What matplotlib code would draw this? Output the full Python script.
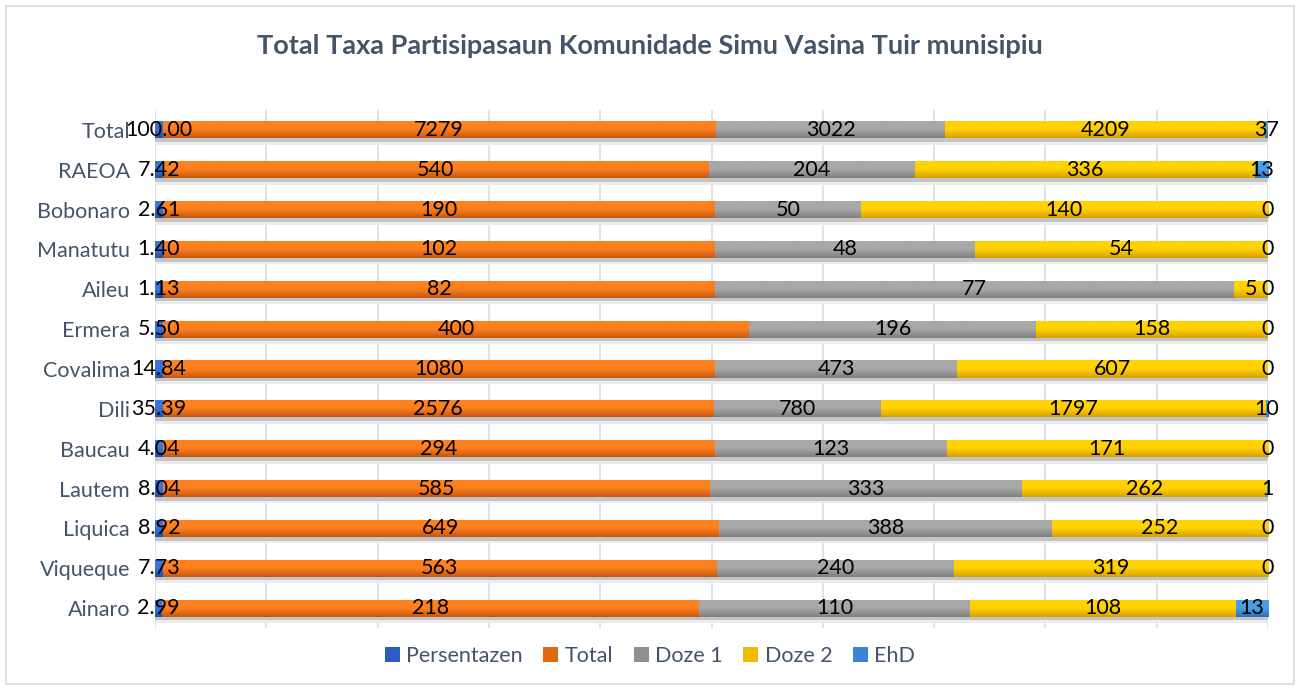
import numpy as np
import matplotlib
matplotlib.use("Agg")
import matplotlib.pyplot as plt
from matplotlib.colors import LinearSegmentedColormap
from matplotlib.patches import Rectangle

categories = ["Total", "RAEOA", "Bobonaro", "Manatutu", "Aileu", "Ermera", "Covalima",
              "Dili", "Baucau", "Lautem", "Liquica", "Viqueque", "Ainaro"]
persentazen = [100.00, 7.42, 2.61, 1.40, 1.13, 5.50, 14.84, 35.39, 4.04, 8.04, 8.92, 7.73, 2.99]
total = [7279, 540, 190, 102, 82, 400, 1080, 2576, 294, 585, 649, 563, 218]
doze1 = [3022, 204, 50, 48, 77, 196, 473, 780, 123, 333, 388, 240, 110]
doze2 = [4209, 336, 140, 54, 5, 158, 607, 1797, 171, 262, 252, 319, 108]
ehd = [37, 13, 0, 0, 0, 0, 0, 10, 0, 1, 0, 0, 13]

series_names = ["Persentazen", "Total", "Doze 1", "Doze 2", "EhD"]
series = [persentazen, total, doze1, doze2, ehd]
labels_fmt = ["{:.2f}", "{:d}", "{:d}", "{:d}", "{:d}"]
flat_colors = ["#2f62c8", "#f0761a", "#999999", "#f5c400", "#3f8ad8"]
grad = [("#3a74dc", "#1f4fa8"), ("#ff801f", "#c4580f"), ("#a8a8a8", "#7f7f7f"),
        ("#ffd200", "#d9a000"), ("#4c9de8", "#2c70b5")]

plt.rcParams['font.family'] = ['Lato', 'DejaVu Sans']

fig = plt.figure(figsize=(13, 6.9), dpi=100)
ax = fig.add_axes([155/1300, 1-628/690, (1268-155)/1300, (628-110)/690])

n = len(categories)
ypos = np.arange(n)[::-1].astype(float)
data = np.array(series, dtype=float)
sums = data.sum(axis=0)
frac = data / sums
h = 0.43

# shadows
ax.barh(ypos - 0.09, np.ones(n), height=h, left=0, color="#c4c4c4", zorder=1)
ax.barh(ypos - 0.16, np.ones(n), height=h, left=0, color="#ececec", zorder=0.9)

left = np.zeros(n)
for k, name in enumerate(series_names):
    bars = ax.barh(ypos, frac[k], height=h, left=left, color=flat_colors[k],
                   label=name, zorder=2, linewidth=0)
    cmap = LinearSegmentedColormap.from_list("g%d" % k, [grad[k][0], grad[k][0], grad[k][1]])
    g = np.linspace(0, 1, 60).reshape(-1, 1)
    for j, p in enumerate(bars.patches):
        if frac[k][j] <= 0:
            continue
        im = ax.imshow(g, cmap=cmap, aspect='auto', interpolation='bilinear',
                       extent=(left[j], left[j] + frac[k][j], ypos[j] - h/2, ypos[j] + h/2),
                       origin='upper', zorder=2.1)
        im.set_clip_path(p)
    for j in range(n):
        v = series[k][j]
        txt = labels_fmt[k].format(v if k == 0 else int(v))
        ax.text(left[j] + frac[k][j] / 2, ypos[j], txt, ha='center', va='center',
                fontsize=15.5, color='black', zorder=5)
    left = left + frac[k]

ax.set_xlim(0, 1)
ax.set_ylim(-0.5, n - 0.5)
ax.set_xticks(np.arange(0, 1.01, 0.1))
ax.set_xticklabels([])
ax.tick_params(axis='x', length=0)
ax.grid(axis='x', color='#d9dde3', linewidth=1.2, zorder=0)
ax.set_axisbelow(True)
ax.set_yticks(ypos)
ax.set_yticklabels(categories, fontsize=15.5, color='#44546a')
ax.tick_params(axis='y', length=0, pad=18)
for s in ax.spines.values():
    s.set_visible(False)

fig.text(0.5, 1 - 46/690, "Total Taxa Partisipasaun Komunidade Simu Vasina Tuir munisipiu",
         ha='center', va='center', fontsize=19.5, fontweight='bold', color='#44546a')

handles = [Rectangle((0, 0), 1, 1, facecolor=c) for c in ["#2a5cc4", "#e06a14", "#8f8f8f", "#f0bc00", "#3a86d4"]]
fig.legend(handles, series_names, loc='center', bbox_to_anchor=(0.5, 1 - 656/690),
           ncol=5, frameon=False, fontsize=15.5, handlelength=0.7, handleheight=0.7,
           handletextpad=0.3, columnspacing=0.95, labelcolor='#44546a')

fig.add_artist(Rectangle((6/1300, 6/690), 1 - 12/1300, 1 - 12/690, transform=fig.transFigure,
                         fill=False, edgecolor='#d9d9d9', linewidth=1.2))

fig.savefig("out.png", dpi=100, facecolor='white')
